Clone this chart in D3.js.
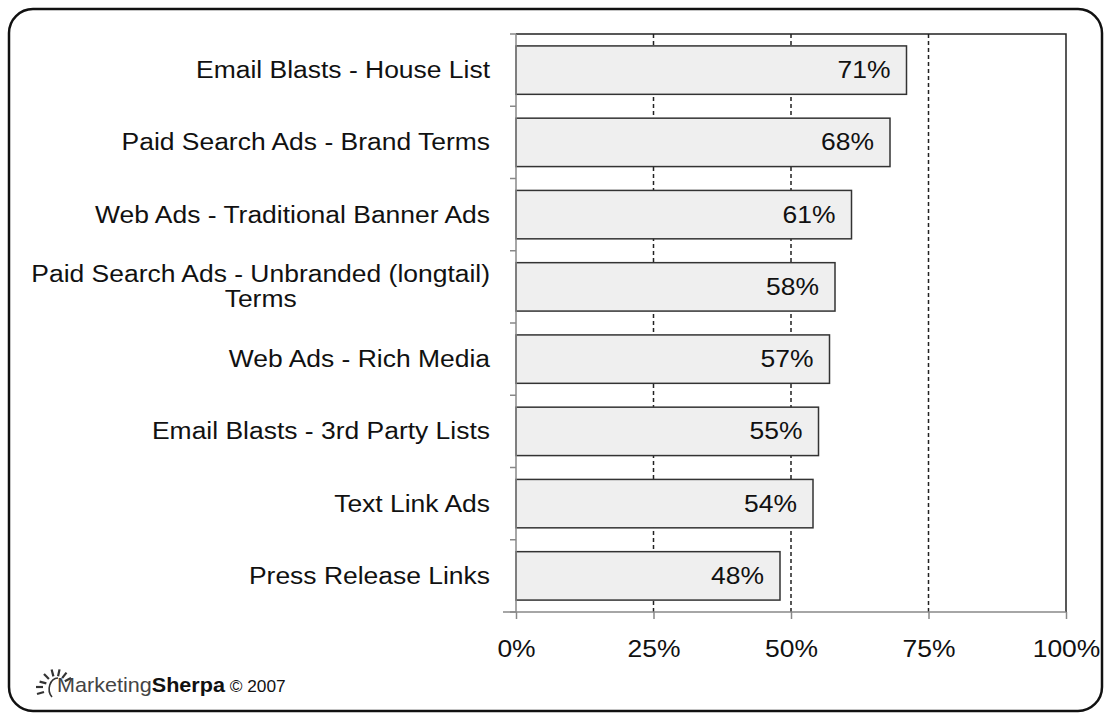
<!DOCTYPE html>
<html lang="en">
<head>
<meta charset="utf-8">
<title>Tactics</title>
<script src="https://cdn.jsdelivr.net/npm/d3@7/dist/d3.min.js"></script>
<style>
  body { margin: 0; background: #fff; }
  svg text { font-family: "Liberation Sans", Arial, sans-serif; fill: #111; }
</style>
</head>
<body>
<script>
// data
var categories = [
  ["Email Blasts - House List"],
  ["Paid Search Ads - Brand Terms"],
  ["Web Ads - Traditional Banner Ads"],
  ["Paid Search Ads - Unbranded (longtail)", "Terms"],
  ["Web Ads - Rich Media"],
  ["Email Blasts - 3rd Party Lists"],
  ["Text Link Ads"],
  ["Press Release Links"]
];
var values = [71, 68, 61, 58, 57, 55, 54, 48];
var xTicks = [0, 25, 50, 75, 100];

var w = 1106, h = 715;
var pLeft = 516, pRight = 1066, pTop = 34, pBottom = 612;
var fs = 24.5;
var sx = 1.08; // the source lettering is a little wider than Liberation Sans

// stretch a text horizontally around its anchor x
function stretch(ax) {
  return "translate(" + ax + ",0) scale(" + sx + ",1) translate(" + (-ax) + ",0)";
}

var svg = d3.select("body").append("svg")
    .attr("width", w).attr("height", h);

// rounded frame
svg.append("rect")
    .attr("x", 9).attr("y", 9)
    .attr("width", 1093).attr("height", 702)
    .attr("rx", 24)
    .attr("fill", "none")
    .attr("stroke", "#111")
    .attr("stroke-width", 2.5);

var x = d3.scaleLinear().domain([0, 100]).range([pLeft, pRight]);
var y = d3.scaleBand()
    .domain(d3.range(categories.length))
    .range([pTop, pBottom])
    .paddingInner(0.33).paddingOuter(0.165);

// dashed gridlines
svg.selectAll("line.grid")
  .data([25, 50, 75])
  .enter().append("line")
    .attr("class", "grid")
    .attr("x1", function(d) { return x(d); })
    .attr("x2", function(d) { return x(d); })
    .attr("y1", pTop).attr("y2", pBottom)
    .attr("stroke", "#222")
    .attr("stroke-width", 1.5)
    .attr("stroke-dasharray", "4,3");

// plot top and right border
svg.append("path")
    .attr("d", "M" + pLeft + "," + pTop + "H" + x(100) + "V" + pBottom)
    .attr("fill", "none")
    .attr("stroke", "#222")
    .attr("stroke-width", 1.5);

// bars
svg.selectAll("rect.bar")
  .data(values)
  .enter().append("rect")
    .attr("class", "bar")
    .attr("x", x(0))
    .attr("y", function(d, i) { return y(i); })
    .attr("width", function(d) { return x(d) - x(0); })
    .attr("height", y.bandwidth())
    .attr("fill", "#efefef")
    .attr("stroke", "#333")
    .attr("stroke-width", 1.5);

// value labels
svg.selectAll("text.val")
  .data(values)
  .enter().append("text")
    .attr("class", "val")
    .attr("x", function(d) { return x(d) - 16; })
    .attr("y", function(d, i) { return y(i) + y.bandwidth() / 2 + 8; })
    .attr("transform", function(d) { return stretch(x(d) - 16); })
    .attr("text-anchor", "end")
    .attr("font-size", fs)
    .text(function(d) { return d + "%"; });

// left axis with ticks on category boundaries
var bounds = d3.range(categories.length + 1).map(function(i) {
  return pTop + i * (pBottom - pTop) / categories.length;
});
svg.append("line")
    .attr("x1", pLeft).attr("x2", pLeft)
    .attr("y1", pTop).attr("y2", pBottom)
    .attr("stroke", "#888").attr("stroke-width", 1.5);
svg.selectAll("line.ytick")
  .data(bounds)
  .enter().append("line")
    .attr("class", "ytick")
    .attr("x1", pLeft - 6).attr("x2", pLeft)
    .attr("y1", function(d) { return d; })
    .attr("y2", function(d) { return d; })
    .attr("stroke", "#888").attr("stroke-width", 1.5);

// category labels
var lab = svg.selectAll("text.cat")
  .data(categories)
  .enter().append("text")
    .attr("class", "cat")
    .attr("font-size", fs)
    .attr("transform", stretch(490))
    .attr("y", function(d, i) { return y(i) + y.bandwidth() / 2 + 8 - (d.length - 1) * 12.5; });
lab.each(function(d) {
  var t = d3.select(this);
  t.attr("x", 490).attr("text-anchor", "end");
  if (d.length === 1) {
    t.text(d[0]);
  } else {
    t.append("tspan").attr("x", 490).text(d[0]);
    var full = this.getComputedTextLength();
    t.append("tspan").attr("x", 490 - full / 2).attr("dy", 25)
      .attr("text-anchor", "middle").text(d[1]);
  }
});

// bottom axis
var xAxis = d3.axisBottom(x)
    .tickValues(xTicks)
    .tickSize(7)
    .tickFormat(function(d) { return d + "%"; });
var gx = svg.append("g")
    .attr("transform", "translate(0," + pBottom + ")")
    .call(xAxis);
gx.select(".domain").remove();
gx.append("line")
    .attr("x1", pLeft - 13).attr("x2", x(100))
    .attr("stroke", "#888").attr("stroke-width", 1.5);
gx.selectAll(".tick line").attr("stroke", "#888").attr("stroke-width", 1.5);
gx.selectAll(".tick text")
    .attr("font-size", fs)
    .attr("dy", 0).attr("y", 45)
    .attr("transform", stretch(0))
    .attr("font-family", "Liberation Sans, Arial, sans-serif")
    .attr("fill", "#111");

// logo: little sun + wordmark
var logo = svg.append("g").attr("transform", "translate(36,678)");
var rays = [-165, -135, -105, -78, -52, -28];
logo.selectAll("line.ray")
  .data(rays)
  .enter().append("line")
    .attr("class", "ray")
    .attr("x1", function(d) { return 20 + 10 * Math.cos(d * Math.PI / 180); })
    .attr("y1", function(d) { return 8 + 10 * Math.sin(d * Math.PI / 180); })
    .attr("x2", function(d) { return 20 + 17 * Math.cos(d * Math.PI / 180); })
    .attr("y2", function(d) { return 8 + 17 * Math.sin(d * Math.PI / 180); })
    .attr("stroke", "#333").attr("stroke-width", 2.2);
logo.append("line").attr("x1", 0).attr("x2", 7).attr("y1", 9).attr("y2", 9)
    .attr("stroke", "#333").attr("stroke-width", 2.2);
logo.append("line").attr("x1", 1).attr("x2", 8).attr("y1", 16).attr("y2", 14)
    .attr("stroke", "#333").attr("stroke-width", 2.2);
logo.append("path")
    .attr("d", "M16,19 A9,11 0 0 1 22,0")
    .attr("fill", "none").attr("stroke", "#333").attr("stroke-width", 1.6);
var lt = logo.append("text")
    .attr("x", 21).attr("y", 14)
    .attr("font-size", 20)
    .attr("transform", stretch(21));
lt.append("tspan").attr("fill", "#444").text("Marketing");
lt.append("tspan").attr("font-weight", "bold").attr("fill", "#111").text("Sherpa");
lt.append("tspan").attr("font-size", 16).attr("fill", "#111").text(" \u00a9 2007");
</script>
</body>
</html>
